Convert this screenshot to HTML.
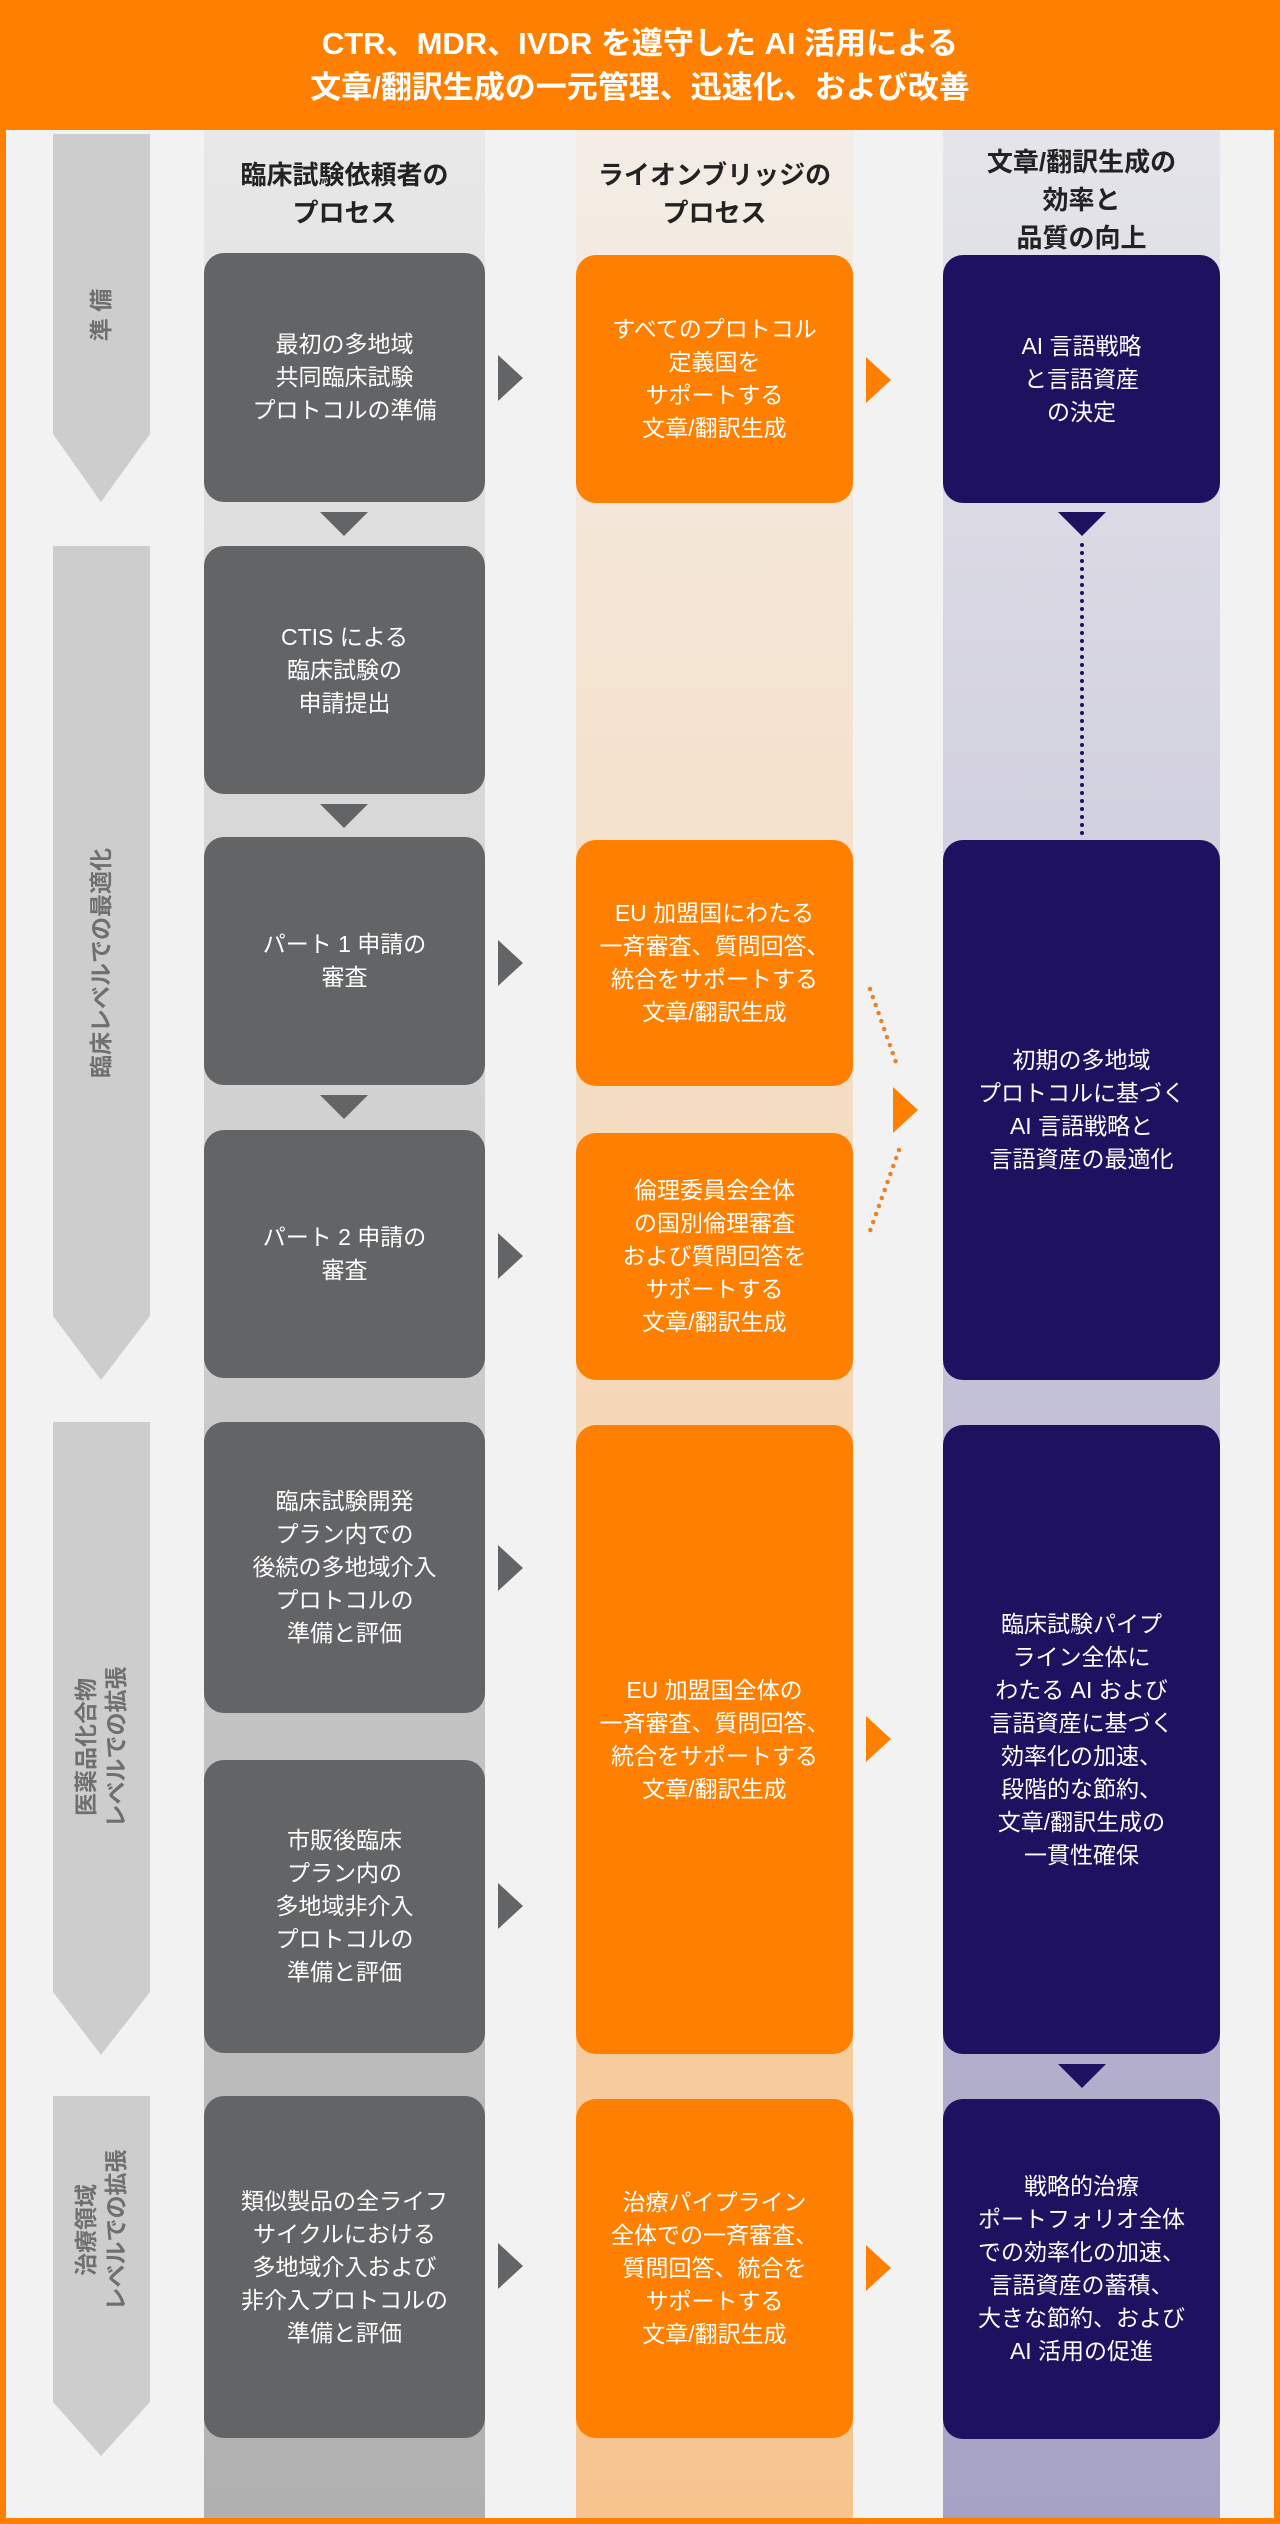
<!DOCTYPE html>
<html><head><meta charset="utf-8"><style>
*{margin:0;padding:0;box-sizing:border-box}
body{width:1280px;height:2524px;position:relative;background:#ff7f00;font-family:"Liberation Sans","Noto Sans CJK JP",sans-serif;overflow:hidden}
#in{position:absolute;left:6px;top:130px;width:1268px;height:2388px;background:#f2f2f2}
.t{position:absolute;left:0;width:1280px;top:22px;text-align:center;color:#fff;font-weight:bold;font-size:31px;line-height:44px}
.band{position:absolute;top:130px;height:2388px}
.h{position:absolute;text-align:center;font-weight:bold;color:#222;font-size:26px;line-height:38px}
.b{position:absolute;border-radius:20px;color:#fff;font-size:23px;line-height:33px;display:flex;align-items:center;justify-content:center;text-align:center}
.g{background:#636466;left:204px;width:281px}
.o{background:#ff8000;left:576px;width:277px}
.n{background:#1d1160;left:943px;width:277px}
.ph{position:absolute;left:53px;width:97px;background:#cdcdcd}
.pl{position:absolute;left:101px;transform:translate(-50%,-50%) rotate(-90deg);white-space:nowrap;color:#6f6f6f;font-weight:bold;font-size:23px;line-height:30px;text-align:center}
.rt{position:absolute;width:0;height:0;border-top:23px solid transparent;border-bottom:23px solid transparent;border-left:25px solid #636466}
.ro{border-left-color:#ff8000}
.dn{position:absolute;width:0;height:0;border-left:24px solid transparent;border-right:24px solid transparent;border-top:24px solid #636466}
</style></head><body>
<div class="t">CTR、MDR、IVDR を遵守した AI 活用による<br>文章/翻訳生成の一元管理、迅速化、および改善</div>
<div id="in"></div>
<div class="band" style="left:204px;width:281px;background:linear-gradient(#e8e8e8,#b0b0b0)"></div>
<div class="band" style="left:576px;width:277px;background:linear-gradient(#f3ede6,#f7c48e)"></div>
<div class="band" style="left:943px;width:277px;background:linear-gradient(#e4e4ea,#a6a2c4)"></div>

<div class="h" style="left:204px;width:281px;top:156px">臨床試験依頼者の<br>プロセス</div>
<div class="h" style="left:576px;width:277px;top:156px">ライオンブリッジの<br>プロセス</div>
<div class="h" style="left:943px;width:277px;top:143px">文章/翻訳生成の<br>効率と<br>品質の向上</div>

<!-- phase arrows -->
<div class="ph" style="top:134px;height:300px"></div><div style="position:absolute;left:53px;top:434px;border-left:48px solid transparent;border-right:49px solid transparent;border-top:68px solid #cdcdcd"></div>
<div class="ph" style="top:546px;height:770px"></div><div style="position:absolute;left:53px;top:1316px;border-left:48px solid transparent;border-right:49px solid transparent;border-top:64px solid #cdcdcd"></div>
<div class="ph" style="top:1422px;height:570px"></div><div style="position:absolute;left:53px;top:1992px;border-left:48px solid transparent;border-right:49px solid transparent;border-top:63px solid #cdcdcd"></div>
<div class="ph" style="top:2096px;height:306px"></div><div style="position:absolute;left:53px;top:2402px;border-left:48px solid transparent;border-right:49px solid transparent;border-top:54px solid #cdcdcd"></div>
<div class="pl" style="top:315px">準 備</div>
<div class="pl" style="top:963px">臨床レベルでの最適化</div>
<div class="pl" style="top:1747px">医薬品化合物<br>レベルでの拡張</div>
<div class="pl" style="top:2230px">治療領域<br>レベルでの拡張</div>

<!-- col1 -->
<div class="b g" style="top:253px;height:249px">最初の多地域<br>共同臨床試験<br>プロトコルの準備</div>
<div class="dn" style="left:320px;top:512px"></div>
<div class="b g" style="top:546px;height:248px">CTIS による<br>臨床試験の<br>申請提出</div>
<div class="dn" style="left:320px;top:804px"></div>
<div class="b g" style="top:837px;height:248px">パート 1 申請の<br>審査</div>
<div class="dn" style="left:320px;top:1095px"></div>
<div class="b g" style="top:1130px;height:248px">パート 2 申請の<br>審査</div>
<div class="b g" style="top:1422px;height:291px">臨床試験開発<br>プラン内での<br>後続の多地域介入<br>プロトコルの<br>準備と評価</div>
<div class="b g" style="top:1760px;height:293px">市販後臨床<br>プラン内の<br>多地域非介入<br>プロトコルの<br>準備と評価</div>
<div class="b g" style="top:2096px;height:342px">類似製品の全ライフ<br>サイクルにおける<br>多地域介入および<br>非介入プロトコルの<br>準備と評価</div>

<div class="rt" style="left:498px;top:355px"></div>
<div class="rt" style="left:498px;top:940px"></div>
<div class="rt" style="left:498px;top:1233px"></div>
<div class="rt" style="left:498px;top:1545px"></div>
<div class="rt" style="left:498px;top:1883px"></div>
<div class="rt" style="left:498px;top:2243px"></div>

<!-- col2 -->
<div class="b o" style="top:255px;height:248px">すべてのプロトコル<br>定義国を<br>サポートする<br>文章/翻訳生成</div>
<div class="b o" style="top:840px;height:246px">EU 加盟国にわたる<br>一斉審査、質問回答、<br>統合をサポートする<br>文章/翻訳生成</div>
<div class="b o" style="top:1133px;height:247px">倫理委員会全体<br>の国別倫理審査<br>および質問回答を<br>サポートする<br>文章/翻訳生成</div>
<div class="b o" style="top:1425px;height:629px">EU 加盟国全体の<br>一斉審査、質問回答、<br>統合をサポートする<br>文章/翻訳生成</div>
<div class="b o" style="top:2099px;height:339px">治療パイプライン<br>全体での一斉審査、<br>質問回答、統合を<br>サポートする<br>文章/翻訳生成</div>

<div class="rt ro" style="left:866px;top:357px"></div>
<div class="rt ro" style="left:893px;top:1087px"></div>
<div class="rt ro" style="left:866px;top:1716px"></div>
<div class="rt ro" style="left:866px;top:2245px"></div>

<svg style="position:absolute;left:0;top:0" width="1280" height="2524">
<line x1="870" y1="989" x2="898" y2="1068" stroke="#e8832a" stroke-width="4.5" stroke-linecap="round" stroke-dasharray="0 8.5"/>
<line x1="899" y1="1150" x2="870" y2="1231" stroke="#e8832a" stroke-width="4.5" stroke-linecap="round" stroke-dasharray="0 8.5"/>
<line x1="1082" y1="545" x2="1082" y2="835" stroke="#1d1160" stroke-width="4" stroke-linecap="round" stroke-dasharray="0 8"/>
</svg>

<!-- col3 -->
<div class="b n" style="top:255px;height:248px">AI 言語戦略<br>と言語資産<br>の決定</div>
<div class="dn" style="left:1058px;top:512px;border-top-color:#1d1160"></div>
<div class="b n" style="top:840px;height:540px">初期の多地域<br>プロトコルに基づく<br>AI 言語戦略と<br>言語資産の最適化</div>
<div class="b n" style="top:1425px;height:629px">臨床試験パイプ<br>ライン全体に<br>わたる AI および<br>言語資産に基づく<br>効率化の加速、<br>段階的な節約、<br>文章/翻訳生成の<br>一貫性確保</div>
<div class="dn" style="left:1058px;top:2064px;border-top-color:#1d1160"></div>
<div class="b n" style="top:2099px;height:340px">戦略的治療<br>ポートフォリオ全体<br>での効率化の加速、<br>言語資産の蓄積、<br>大きな節約、および<br>AI 活用の促進</div>
</body></html>
